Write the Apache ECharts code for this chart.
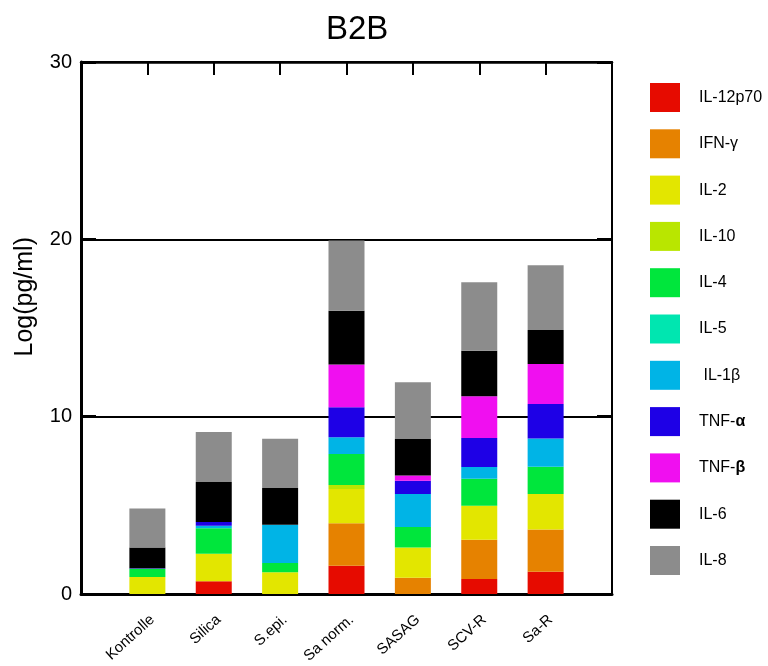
<!DOCTYPE html>
<html>
<head>
<meta charset="utf-8">
<script src="https://cdn.jsdelivr.net/npm/echarts@6/dist/echarts.min.js"></script>
<style>html,body{margin:0;padding:0;background:#fff}#c{width:768px;height:666px}</style>
</head>
<body>
<div id="c"></div>
<script>
// Categories (padded with empty slots at both ends to reproduce the spacing)
var categories = ['Kontrolle', 'Silica', 'S.epi.', 'Sa norm.', 'SASAG', 'SCV-R', 'Sa-R'];
var yTicks = [0, 10, 20, 30];

// Stacked segment values per cytokine (Log(pg/ml)), in category order
var IL12p70 = [0,    0.72, 0,    1.60, 0,    0.85, 1.26];
var IFNg    = [0,    0,    0,    2.39, 0.92, 2.21, 2.39];
var IL2     = [0.96, 1.55, 1.24, 1.93, 1.71, 1.92, 1.99];
var IL10    = [0,    0,    0,    0.23, 0,    0,    0   ];
var IL4     = [0.47, 1.45, 0.51, 1.75, 1.15, 1.52, 1.54];
var IL5     = [0,    0,    0,    0,    0,    0,    0   ];
var IL1b    = [0,    0.13, 2.16, 0.94, 1.86, 0.66, 1.60];
var TNFa    = [0.03, 0.21, 0,    1.69, 0.75, 1.64, 1.94];
var TNFb    = [0,    0,    0,    2.42, 0.30, 2.35, 2.25];
var IL6     = [1.17, 2.26, 2.07, 3.03, 2.05, 2.57, 1.92];
var IL8     = [2.20, 2.82, 2.78, 3.95, 3.20, 3.86, 3.65];

var seriesNames = ['IL-12p70', 'IFN-γ', 'IL-2', 'IL-10', 'IL-4', 'IL-5', 'IL-1β', 'TNF-α', 'TNF-β', 'IL-6', 'IL-8'];
var seriesData = [IL12p70, IFNg, IL2, IL10, IL4, IL5, IL1b, TNFa, TNFb, IL6, IL8];
var colors = ['#e60b00', '#e68200', '#e3e600', '#b9e600', '#00e63c', '#00e6b0', '#00b4e6', '#1e00e6', '#f00ff0', '#000000', '#8c8c8c'];

var axisCats = [''].concat(categories).concat(['']);
var FONT = '"Liberation Sans", Arial, Helvetica, sans-serif';

var series = seriesNames.map(function (name, i) {
  return {
    name: name,
    type: 'bar',
    stack: 'total',
    barWidth: 36,
    xAxisIndex: 0,
    yAxisIndex: 0,
    itemStyle: { color: colors[i] },
    data: ['-'].concat(seriesData[i]).concat(['-'])
  };
});

var chart = echarts.init(document.getElementById('c'), null, { renderer: 'canvas' });
chart.setOption({
  animation: false,
  backgroundColor: '#fff',
  textStyle: { fontFamily: FONT },
  title: {
    text: 'B2B', left: 321, top: 8,
    textStyle: { fontSize: 33, fontWeight: 'normal', color: '#000', fontFamily: FONT }
  },
  grid: { left: 81, right: 156, top: 62, bottom: 70 },
  legend: {
    orient: 'vertical', left: 650, top: 83, padding: 0,
    itemWidth: 30, itemHeight: 29, itemGap: 17.3,
    icon: 'rect', selectedMode: false,
    data: seriesNames,
    formatter: function (n) {
      if (n === 'TNF-α') return '{t|TNF-}{b|α}';
      if (n === 'TNF-β') return '{t|TNF-}{b|β}';
      if (n === 'IL-1β') return '{t| IL-1β}';
      return '{t|' + n + '}';
    },
    textStyle: {
      padding: [0, 0, 0, 14],
      rich: {
        t: { fontSize: 16, color: '#000', fontFamily: FONT },
        b: { fontSize: 16, color: '#000', fontWeight: 'bold', fontFamily: FONT }
      }
    }
  },
  xAxis: [
    {
      type: 'category', data: axisCats, boundaryGap: false, position: 'bottom',
      axisLine: { lineStyle: { color: '#000', width: 3 } },
      axisTick: { show: false },
      axisLabel: { interval: 0, rotate: 42, margin: 18, verticalAlign: 'top', fontSize: 15, color: '#000', fontFamily: FONT },
      splitLine: { show: false }
    },
    {
      type: 'category', data: axisCats, boundaryGap: false, position: 'top',
      axisLine: { show: true, onZero: false, lineStyle: { color: '#000', width: 2.5 } },
      axisTick: { show: true, inside: true, length: 13, interval: 0, lineStyle: { color: '#000', width: 2 } },
      axisLabel: { show: false },
      splitLine: { show: false }
    }
  ],
  yAxis: [
    {
      type: 'value', min: yTicks[0], max: yTicks[yTicks.length - 1], interval: 10, position: 'left',
      axisLine: { show: true, onZero: false, lineStyle: { color: '#000', width: 3 } },
      axisTick: { show: true, inside: true, length: 15, lineStyle: { color: '#000', width: 3 } },
      axisLabel: { fontSize: 20, color: '#000', margin: 9, fontFamily: FONT },
      splitLine: { show: true, lineStyle: { color: '#000', width: 2 } }
    },
    {
      type: 'value', min: yTicks[0], max: yTicks[yTicks.length - 1], interval: 10, position: 'right',
      axisLine: { show: true, onZero: false, lineStyle: { color: '#000', width: 2 } },
      axisTick: { show: true, inside: true, length: 15, lineStyle: { color: '#000', width: 3 } },
      axisLabel: { show: false },
      splitLine: { show: false }
    }
  ],
  graphic: [{
    type: 'text', left: 13, top: 237, rotation: Math.PI / 2,
    style: { text: 'Log(pg/ml)', font: '25px ' + FONT, fill: '#000' }
  }],
  series: series
});
</script>
</body>
</html>
